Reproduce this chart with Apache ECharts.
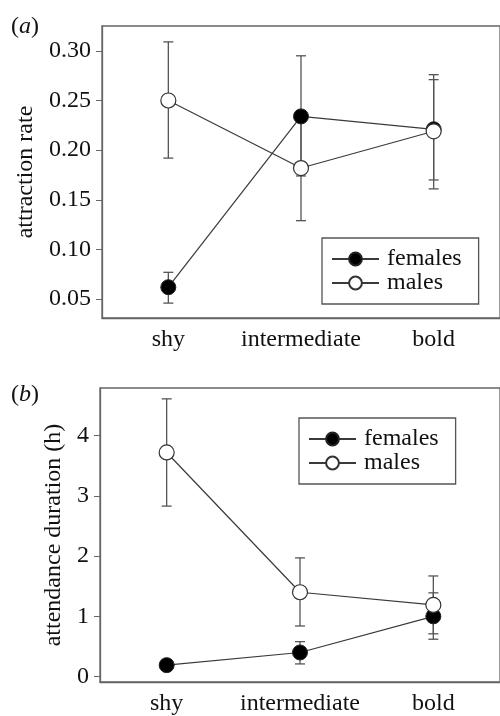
<!DOCTYPE html>
<html>
<head>
<meta charset="utf-8">
<script src="https://cdn.jsdelivr.net/npm/echarts@6/dist/echarts.min.js"></script>
<style>
  html, body { margin: 0; padding: 0; background: #fff; }
  #chart { width: 500px; height: 716px; }
</style>
</head>
<body>
<div id="chart"></div>
<script>
// categories and tick labels
var categories = ['shy', 'intermediate', 'bold'];
var ticksA = [0.05, 0.10, 0.15, 0.20, 0.25, 0.30];
var ticksB = [0, 1, 2, 3, 4];

// (a) attraction rate
var femalesA = [0.062, 0.234, 0.221];
var femalesLowA = [0.046, 0.174, 0.170];
var femalesHighA = [0.077, 0.295, 0.271];
var malesA = [0.250, 0.182, 0.219];
var malesLowA = [0.192, 0.129, 0.161];
var malesHighA = [0.309, 0.235, 0.276];

// (b) attendance duration (h)
var femalesB = [0.19, 0.40, 1.00];
var femalesLowB = [0.13, 0.21, 0.62];
var femalesHighB = [0.26, 0.58, 1.39];
var malesB = [3.72, 1.40, 1.19];
var malesLowB = [2.83, 0.84, 0.71];
var malesHighB = [4.61, 1.97, 1.67];

var FONT = "'Liberation Serif', 'DejaVu Serif', serif";
var FS = 24;
var INK = '#111';
var BOX = '#666';

function bars(low, high) {
  return low.map(function (l, i) { return [i, l, high[i]]; });
}

// error bars drawn through the axis scales
function errorSeries(name, low, high, idx) {
  return {
    type: 'custom',
    name: name + ' err',
    xAxisIndex: idx, yAxisIndex: idx,
    z: 1, silent: true,
    encode: { x: 0, y: [1, 2] },
    data: bars(low, high),
    renderItem: function (params, api) {
      var top = api.coord([api.value(0), api.value(2)]);
      var bot = api.coord([api.value(0), api.value(1)]);
      var cap = 5;
      var st = { stroke: '#555', lineWidth: 1.3 };
      return {
        type: 'group',
        children: [
          { type: 'line', shape: { x1: top[0], y1: top[1], x2: bot[0], y2: bot[1] }, style: st },
          { type: 'line', shape: { x1: top[0] - cap, y1: top[1], x2: top[0] + cap, y2: top[1] }, style: st },
          { type: 'line', shape: { x1: bot[0] - cap, y1: bot[1], x2: bot[0] + cap, y2: bot[1] }, style: st }
        ]
      };
    }
  };
}

function lineSeries(name, data, idx, filled) {
  return {
    type: 'line',
    name: name,
    xAxisIndex: idx, yAxisIndex: idx,
    z: 3,
    data: data,
    symbol: 'circle',
    symbolSize: 15,
    showAllSymbol: true,
    lineStyle: { color: '#3a3a3a', width: 1.2 },
    itemStyle: filled
      ? { color: '#000', borderColor: '#222', borderWidth: 1 }
      : { color: '#fff', borderColor: '#333', borderWidth: 1.2 },
    emphasis: { disabled: true }
  };
}

function xAxis(idx) {
  return {
    type: 'category',
    gridIndex: idx,
    data: categories,
    boundaryGap: true,
    axisLine: { onZero: false, lineStyle: { color: BOX, width: 1.3 } },
    axisTick: { alignWithLabel: true, interval: 0, length: 5, lineStyle: { color: BOX } },
    axisLabel: { color: INK, fontFamily: FONT, fontSize: FS, margin: 10, interval: 0, hideOverlap: false },
    splitLine: { show: false }
  };
}

function yAxis(idx, min, max, ticks, name, gap, decimals) {
  return {
    type: 'value',
    gridIndex: idx,
    min: min, max: max,
    name: name,
    nameLocation: 'middle',
    nameGap: gap,
    nameTextStyle: { color: INK, fontFamily: FONT, fontSize: FS },
    axisLine: { show: true, lineStyle: { color: BOX, width: 1.3 } },
    axisTick: { show: true, length: 6, customValues: ticks, lineStyle: { color: BOX } },
    axisLabel: {
      color: INK, fontFamily: FONT, fontSize: FS, margin: 11,
      customValues: ticks,
      formatter: function (v) { return v.toFixed(decimals); }
    },
    splitLine: { show: false }
  };
}

function legend(left, top) {
  return {
    orient: 'vertical',
    left: left, top: top,
    data: ['females', 'males'],
    selectedMode: false,
    borderColor: '#555', borderWidth: 1.3,
    padding: [9, 17, 9, 9],
    itemWidth: 47, itemHeight: 16, itemGap: 0,
    textStyle: { color: INK, fontFamily: FONT, fontSize: FS, lineHeight: 24, padding: [0, 0, 0, 3] }
  };
}

function panelTitle(letter, top) {
  return {
    text: '({i|' + letter + '})', left: 6, top: top,
    textStyle: {
      color: INK, fontFamily: FONT, fontSize: FS, fontWeight: 'normal',
      rich: { i: { fontStyle: 'italic', fontFamily: FONT, fontSize: FS, color: INK } }
    }
  };
}

var chart = echarts.init(document.getElementById('chart'));
chart.setOption({
  animation: false,
  backgroundColor: '#fff',
  title: [panelTitle('a', 10), panelTitle('b', 378)],
  grid: [
    { left: 102, top: 26, height: 292, right: -10, show: true, borderColor: BOX, borderWidth: 1.3, containLabel: false },
    { left: 100, top: 388, height: 295, right: -8, show: true, borderColor: BOX, borderWidth: 1.3, containLabel: false }
  ],
  legend: [legend(322, 238), legend(299, 418)],
  xAxis: [xAxis(0), xAxis(1)],
  yAxis: [
    yAxis(0, 0.031, 0.325, ticksA, 'attraction rate', 59, 2),
    yAxis(1, -0.09, 4.79, ticksB, 'attendance duration (h)', 31, 0)
  ],
  series: [
    errorSeries('females', femalesLowA, femalesHighA, 0),
    errorSeries('males', malesLowA, malesHighA, 0),
    lineSeries('females', femalesA, 0, true),
    lineSeries('males', malesA, 0, false),
    errorSeries('females', femalesLowB, femalesHighB, 1),
    errorSeries('males', malesLowB, malesHighB, 1),
    lineSeries('females', femalesB, 1, true),
    lineSeries('males', malesB, 1, false)
  ]
});
</script>
</body>
</html>
